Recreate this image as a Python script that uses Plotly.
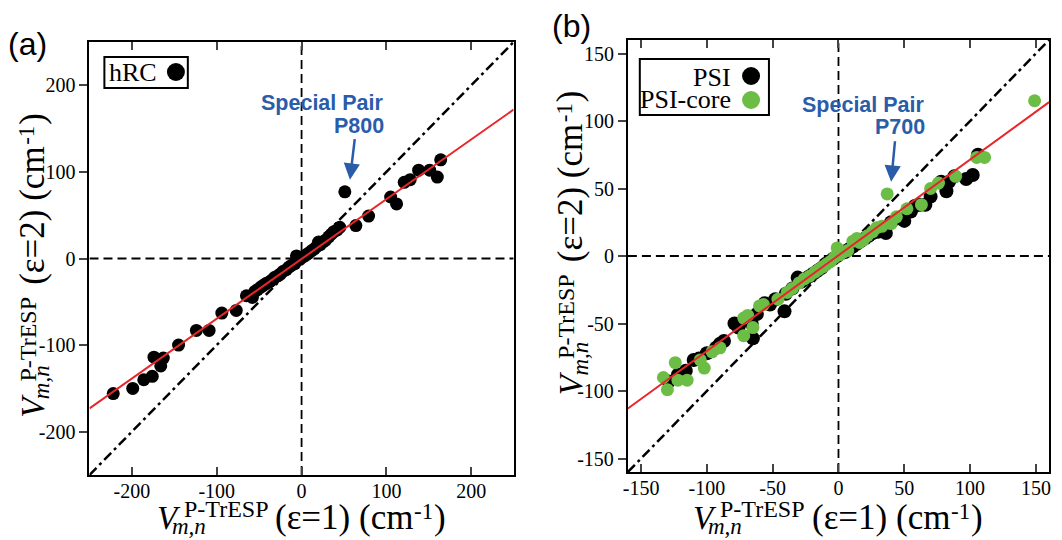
import plotly.graph_objects as go

# ---------------- data ----------------
hrc_x = [-222, -199, -186, -176, -174, -166, -163, -145, -124, -109, -94, -77, -65, -58,
         -55, -52, -48, -45, -42, -38, -35, -32, -28, -25, -22, -18, -15, -12, -8, -6, -2,
         2, 5, 8, 12, 15, 18, 20, 22, 25, 28, 32, 35, 38, 42, 45,
         51, 64, 79, 105, 112, 121, 128, 138, 151, 160, 164]
hrc_y = [-156, -150, -140, -136, -114, -124, -115, -100, -83, -83, -63, -60, -43, -45,
         -38, -36, -33, -31, -29, -27, -25, -22, -20, -18, -15, -13, -10, -8, -6, 3, -1,
         2, 4, 6, 9, 11, 14, 19, 16, 19, 21, 25, 28, 31, 33, 36,
         77, 38, 49, 71, 63, 88, 91, 102, 102, 94, 114]

psi_x = [-129, -122, -116, -110, -106, -100, -93, -90, -87, -79, -76, -72, -65, -66, -62,
         -56, -52, -48, -41, -40, -35, -31, -28, -25, -22, -19, -16, -13, -10, -7, -4, -1,
         2, 5, 8, 11, 14, 17, 20, 23, 26, 30, 33, 36, 40, 45, 50, 55, 58, 62, 66, 70,
         78, 82, 84, 88, 97, 102, 106]
psi_y = [-93, -88, -85, -77, -76, -72, -68, -65, -63, -50, -53, -48, -61, -50, -43,
         -35, -36, -32, -41, -28, -24, -16, -19, -17, -15, -13, -11, -9, -6, -4, -2, 0,
         2, 3, 5, 7, 9, 11, 13, 15, 17, 18, 20, 17, 25, 28, 26, 33, 37, 38, 38, 44,
         55, 48, 55, 59, 57, 60, 75]

core_x = [-133, -130, -124, -122, -115, -105, -102, -96, -90, -72, -69, -72, -65, -60,
          -57, -46, -39, -35, -30, -26, -22, -18, -15, -12, -9, -6, -3, -1, 1, 4, 7,
          11, 14, 16, 19, 22, 26, 29, 33, 37, 40, 44, 52, 63, 70, 76, 89, 105, 111, 149]
core_y = [-90, -99, -79, -92, -92, -77, -83, -71, -68, -59, -44, -46, -53, -37,
          -36, -32, -27, -24, -20, -17, -15, -12, -10, -8, -6, -4, -1, 6, 1, 3, 4,
          11, 13, 10, 12, 15, 18, 21, 22, 46, 24, 29, 35, 38, 50, 54, 59, 73, 73, 115]

# reference lines (endpoints)
diag_a = [-250, 250]
fit_a_x = [-250, 250]
fit_a_y = [-173, 172]
diag_b = [-160, 160]
fit_b_x = [-160, 160]
fit_b_y = [-113, 114]

range_a = [-250, 250]
range_b = [-160, 160]
ticks_a = [-200, -100, 0, 100, 200]
ticklabels_a = ["-200", "-100", "0", "100", "200"]
ticks_b = [-150, -100, -50, 0, 50, 100, 150]
ticklabels_b = ["-150", "-100", "-50", "0", "50", "100", "150"]

BLUE = "#2a5caa"
GREEN = "#6cbd45"
RED = "#e8262a"
SERIF = "Liberation Serif, Times New Roman, serif"
SANS = "Liberation Sans, Arial, sans-serif"

# page offset (default body margin) and figure size
OFF = 8
W, H = 1062 - OFF, 540 - OFF


def px(xp):
    return (xp - OFF) / W


def py(yp):
    return 1 - (yp - OFF) / H


fig = go.Figure()


def add_panel(xa, ya, rng, diag):
    zl = dict(color="black", width=1.8, dash="9px,5px")
    fig.add_trace(go.Scatter(x=[0, 0], y=rng, mode="lines", xaxis=xa, yaxis=ya,
                             line=zl, showlegend=False, hoverinfo="skip"))
    fig.add_trace(go.Scatter(x=rng, y=[0, 0], mode="lines", xaxis=xa, yaxis=ya,
                             line=zl, showlegend=False, hoverinfo="skip"))
    fig.add_trace(go.Scatter(x=diag, y=diag, mode="lines", xaxis=xa, yaxis=ya,
                             line=dict(color="black", width=2.5, dash="10px,4px,3px,4px"),
                             showlegend=False, hoverinfo="skip"))


add_panel("x", "y", range_a, diag_a)
fig.add_trace(go.Scatter(x=hrc_x, y=hrc_y, mode="markers", xaxis="x", yaxis="y",
                         marker=dict(color="black", size=13), name="hRC", showlegend=False))
fig.add_trace(go.Scatter(x=fit_a_x, y=fit_a_y, mode="lines", xaxis="x", yaxis="y",
                         line=dict(color=RED, width=2), showlegend=False, hoverinfo="skip"))

add_panel("x2", "y2", range_b, diag_b)
fig.add_trace(go.Scatter(x=psi_x, y=psi_y, mode="markers", xaxis="x2", yaxis="y2",
                         marker=dict(color="black", size=14), name="PSI", showlegend=False))
fig.add_trace(go.Scatter(x=core_x, y=core_y, mode="markers", xaxis="x2", yaxis="y2",
                         marker=dict(color=GREEN, size=13), name="PSI-core", showlegend=False))
fig.add_trace(go.Scatter(x=fit_b_x, y=fit_b_y, mode="lines", xaxis="x2", yaxis="y2",
                         line=dict(color=RED, width=2), showlegend=False, hoverinfo="skip"))

dom_xa = [px(85), px(512)]
dom_ya = [py(475), py(42)]
dom_xb = [px(627), px(1051)]
dom_yb = [py(472), py(40)]

tickfont = dict(family=SERIF, size=20, color="black")


def xax(dom, rng, tv, tt, anchor):
    return dict(domain=dom, range=rng, tickvals=tv, ticktext=tt, ticks="inside", ticklen=8,
                tickwidth=1.5, mirror="ticks", showline=True, linewidth=2, linecolor="black",
                showgrid=False, zeroline=False, tickfont=tickfont, anchor=anchor,
                ticklabelstandoff=-3, fixedrange=True)


def yax(dom, rng, tv, tt, anchor):
    return dict(domain=dom, range=rng, tickvals=tv, ticktext=tt, ticks="outside", ticklen=8,
                tickwidth=1.5, mirror=True, showline=True, linewidth=2, linecolor="black",
                showgrid=False, zeroline=False, tickfont=tickfont, anchor=anchor,
                fixedrange=True)


def yax_right(dom, rng, tv, anchor, over):
    return dict(domain=dom, range=rng, tickvals=tv, ticks="inside", ticklen=8, tickwidth=1.5,
                side="right", overlaying=over, showticklabels=False, showline=False,
                showgrid=False, zeroline=False, anchor=anchor, fixedrange=True)


fig.update_layout(
    width=W, height=H,
    margin=dict(l=0, r=0, t=0, b=0),
    paper_bgcolor="white", plot_bgcolor="white",
    showlegend=False,
    xaxis=xax(dom_xa, range_a, ticks_a, ticklabels_a, "y"),
    yaxis=yax(dom_ya, range_a, ticks_a, ticklabels_a, "x"),
    xaxis2=xax(dom_xb, range_b, ticks_b, ticklabels_b, "y2"),
    yaxis2=yax(dom_yb, range_b, ticks_b, ticklabels_b, "x2"),
    yaxis3=yax_right(dom_ya, range_a, ticks_a, "x", "y"),
    yaxis4=yax_right(dom_yb, range_b, ticks_b, "x2", "y2"),
)

ann = []

# ---- axis titles built from pieces (stacked sub/superscript) ----
S_V, S_MAIN, S_SUB, S_SUP, S_EXP = 33, 35, 23, 24, 23
MAIN_W = 139   # approx. width of "(ε=n) (cm" at S_MAIN
EXP_W = 20     # approx. width of "-1" at S_EXP


def piece_h(text, x_left, base, size):
    ann.append(dict(text=text, x=px(x_left), y=py(base + 0.216 * size), xref="paper",
                    yref="paper", xanchor="left", yanchor="bottom", showarrow=False,
                    borderpad=0, borderwidth=0,
                    font=dict(family=SERIF, size=size, color="black")))


def piece_v(text, y_start, base_x, size):
    ann.append(dict(text=text, x=px(base_x + 0.216 * size), y=py(y_start), xref="paper",
                    yref="paper", xanchor="right", yanchor="bottom", textangle=-90,
                    showarrow=False, borderpad=0, borderwidth=0,
                    font=dict(family=SERIF, size=size, color="black")))


def title_h(x0, base, eps):
    piece_h("<i>V</i>", x0, base, S_V)
    piece_h("<i>m,n</i>", x0 + 15, base + 5, S_SUB)
    piece_h("P-TrESP", x0 + 27, base - 12, S_SUP)
    m0 = x0 + 119
    piece_h("(ε=%d) (cm" % eps, m0, base, S_MAIN)
    piece_h("-1", m0 + MAIN_W + 1, base - 10, S_EXP)
    piece_h(")", m0 + MAIN_W + EXP_W + 1, base, S_MAIN)


def title_v(y0, base_x, eps):
    piece_v("<i>V</i>", y0, base_x, S_V)
    piece_v("<i>m,n</i>", y0 - 19, base_x + 5, S_SUB)
    piece_v("P-TrESP", y0 - 36, base_x - 9, S_SUP)
    m0 = y0 - 133
    piece_v("(ε=%d) (cm" % eps, m0, base_x, S_MAIN)
    piece_v("-1", m0 - MAIN_W - 1, base_x - 10, S_EXP)
    piece_v(")", m0 - MAIN_W - EXP_W - 1, base_x, S_MAIN)


title_h(153, 529, 1)
title_h(693, 529, 1)
title_v(418, 39, 2)
title_v(395, 581, 2)

# panel labels
ann.append(dict(text="(a)", x=px(2), y=py(44), xref="paper", yref="paper", showarrow=False,
                font=dict(family=SANS, size=32, color="black"), xanchor="left",
                yanchor="middle", borderpad=0))
ann.append(dict(text="(b)", x=px(550), y=py(26), xref="paper", yref="paper", showarrow=False,
                font=dict(family=SANS, size=32, color="black"), xanchor="left",
                yanchor="middle", borderpad=0))

# special pair labels
spfont = dict(family=SANS, size=21.5, color=BLUE)
for txt, xr, yc in [("<b>Special Pair</b>", 382, 103), ("<b>P800</b>", 382, 126),
                    ("<b>Special Pair</b>", 927, 105), ("<b>P700</b>", 927, 127)]:
    ann.append(dict(text=txt, x=px(xr), y=py(yc), xref="paper", yref="paper", showarrow=False,
                    xanchor="right", yanchor="middle", font=spfont, borderpad=0))

ann.append(dict(text="", x=57, y=91, xref="x", yref="y", showarrow=True, ax=5, ay=-42,
                arrowcolor=BLUE, arrowwidth=2.5, arrowhead=2, arrowsize=1.3, standoff=0))
ann.append(dict(text="", x=40, y=55, xref="x2", yref="y2", showarrow=True, ax=4, ay=-42,
                arrowcolor=BLUE, arrowwidth=2.5, arrowhead=2, arrowsize=1.3, standoff=0))

# legend texts
lfont = dict(family=SERIF, size=26, color="black")
ann.append(dict(text="hRC", x=px(104), y=py(72), xref="paper", yref="paper", showarrow=False,
                font=lfont, xanchor="left", yanchor="middle", borderpad=0))
ann.append(dict(text="PSI", x=px(732), y=py(77), xref="paper", yref="paper", showarrow=False,
                font=lfont, xanchor="right", yanchor="middle", borderpad=0))
ann.append(dict(text="PSI-core", x=px(732), y=py(100), xref="paper", yref="paper",
                showarrow=False, font=lfont, xanchor="right", yanchor="middle", borderpad=0))

fig.update_layout(annotations=ann)


def dot(xc, yc, color):
    return dict(type="circle", xref="paper", yref="paper", xsizemode="pixel",
                ysizemode="pixel", xanchor=px(xc), yanchor=py(yc), x0=-9, x1=9, y0=-9, y1=9,
                line=dict(width=0), fillcolor=color, layer="above")


shapes = [
    dict(type="rect", xref="paper", yref="paper", x0=px(100), x1=px(184), y0=py(88), y1=py(57),
         line=dict(color="black", width=2), fillcolor="white", layer="above"),
    dot(172, 72, "black"),
    dict(type="rect", xref="paper", yref="paper", x0=px(639), x1=px(769), y0=py(115),
         y1=py(59), line=dict(color="black", width=2), fillcolor="white", layer="above"),
    dot(751, 76, "black"),
    dot(751, 100, GREEN),
]
fig.update_layout(shapes=shapes)

fig.write_html("out.html")
